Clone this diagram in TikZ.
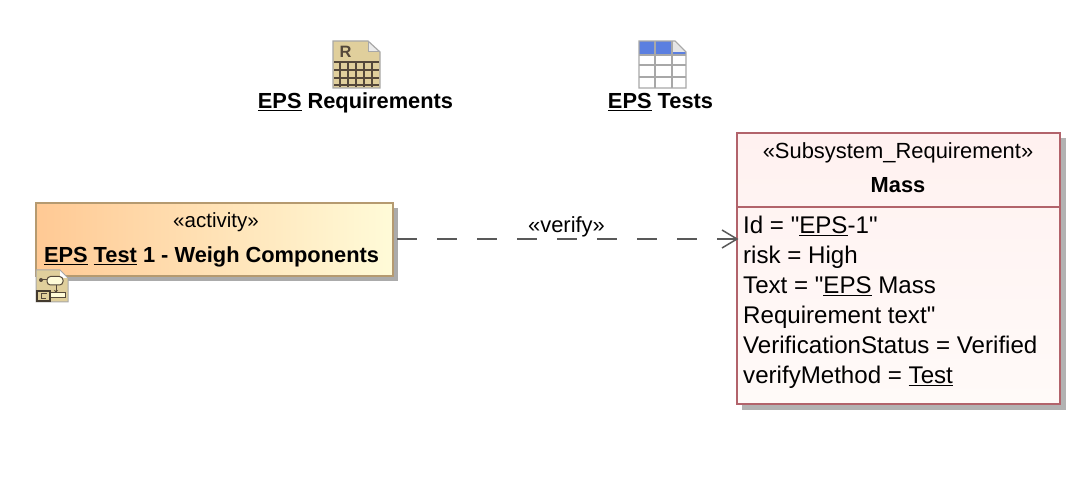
\documentclass[tikz,border=0pt]{standalone}
\usepackage{fontspec}
\setmainfont{Liberation Sans}
\newfontfamily\plainf{Liberation Sans}
\usetikzlibrary{arrows.meta,shadings}
\definecolor{actL}{HTML}{FFC994}
\definecolor{actM}{HTML}{FFE6BE}
\definecolor{actR}{HTML}{FFFBD8}
\definecolor{actB}{HTML}{B59A70}
\definecolor{reqB}{HTML}{B2636B}
\definecolor{reqT}{HTML}{FFF1F0}
\definecolor{reqE}{HTML}{FFFAF8}
\definecolor{iconTan}{HTML}{E0CF9C}
\definecolor{iconLine}{HTML}{54483A}
\definecolor{iconEdge}{HTML}{A8A8A8}
\definecolor{iconBlue}{HTML}{5B7FE0}
\newcommand{\ul}[1]{\underline{#1}}
\tikzset{
  x=1bp,y=-1bp,
  lbl/.style={inner sep=0pt,font=\plainf\fontsize{22}{24}\selectfont,text=black},
  blbl/.style={inner sep=0pt,font=\plainf\fontsize{21.9}{24}\selectfont\bfseries,text=black},
  attr/.style={inner sep=0pt,anchor=base west,font=\plainf\fontsize{24.2}{26}\selectfont,text=black},
  actbox/.style={draw=actB,line width=1.5bp,left color=actL,middle color=actM,right color=actR,inner sep=0pt},
  reqbox/.style={draw=reqB,line width=1.5bp,top color=reqT,bottom color=reqE,inner sep=0pt},
  dep/.style={draw=black!65,line width=1.7bp,dash pattern=on 20bp off 20bp},
}
\begin{document}
\begin{tikzpicture}
\useasboundingbox (0,0) rectangle (1088,486);
% requirement table icon
\fill[iconTan] (333,41) -- (368,41) -- (380,52) -- (380,88) -- (333,88) -- cycle;
\fill[white!92!black] (368,41) -- (380,52) -- (368,52) -- cycle;
\draw[iconEdge,line width=1.2bp] (333,41) -- (368,41) -- (380,52) -- (380,88) -- (333,88) -- cycle;
\draw[iconEdge,line width=1bp] (368,41) -- (368,52) -- (380,52);
\foreach \yy in {62,70,78,85} \draw[iconLine,line width=1.6bp] (334,\yy) -- (379,\yy);
\foreach \xx in {340,348,356,364,372} \draw[iconLine,line width=1.6bp] (\xx,62) -- (\xx,87);
\node[inner sep=0pt,font=\plainf\fontsize{16.5}{18}\selectfont\bfseries,text=iconLine] (rr) at (345.5,51.5) {R};
\node[blbl,anchor=base] (reqlabel) at (355.5,109) {\ul{EPS} Requirements};
% tests table icon
\fill[white] (639,41) -- (675,41) -- (686,52) -- (686,88) -- (639,88) -- cycle;
\fill[iconBlue] (639,41) -- (672,41) -- (672,55) -- (639,55) -- cycle;
\fill[iconBlue] (672,52) -- (686,52) -- (686,55) -- (672,55) -- cycle;
\fill[white!90!black] (673,41) -- (685,52) -- (673,52) -- cycle;
\draw[iconEdge,line width=1.2bp] (639,41) -- (675,41) -- (686,52) -- (686,88) -- (639,88) -- cycle;
\foreach \yy in {55,65,77} \draw[iconEdge,line width=1.2bp] (639,\yy) -- (686,\yy);
\foreach \xx in {655,672} \draw[iconEdge,line width=1.2bp] (\xx,41) -- (\xx,88);
\node[blbl,anchor=base] (testlabel) at (660.5,109) {\ul{EPS} Tests};
% activity
\fill[black!33] (41,208) rectangle (398,281);
\node[actbox,minimum width=357bp,minimum height=73bp] (act) at (214.5,239.5) {};
\node[lbl,anchor=base,font=\plainf\fontsize{20.6}{24}\selectfont] (actster) at (216,228) {«activity»};
\node[blbl,anchor=base] (actname) at (211.5,263) {\ul{EPS} \ul{Test} 1 - Weigh Components};
% activity diagram icon
\fill[iconTan] (36,270) -- (60,270) -- (68,278) -- (68,302) -- (36,302) -- cycle;
\fill[white] (60,270) -- (68,278) -- (60,278) -- cycle;
\draw[iconEdge,line width=1bp] (36,270) -- (60,270) -- (68,278) -- (68,302) -- (36,302) -- cycle;
\draw[iconLine,line width=1bp] (41,280) -- (47,280);
\fill[iconLine] (41,280) circle (2);
\draw[iconLine,line width=1bp,fill=actR,rounded corners=3.5bp] (47,276.5) rectangle (63,285);
\draw[iconLine,line width=1bp,-{Stealth[length=3bp,width=4bp]}] (56,285) -- (56,293);
\draw[iconLine,line width=1bp,fill=actR] (50,293) rectangle (65,298);
\draw[iconLine!80!black,line width=2bp,fill=iconTan] (37,291) rectangle (49.5,301.5);
\draw[iconLine,line width=1bp] (41,294) -- (47,294) (41,294) -- (41,298.5) -- (46,298.5);
% requirement
\fill[black!30] (742,138) rectangle (1066,410);
\node[reqbox,minimum width=323bp,minimum height=271bp] (req) at (898.5,268.5) {};
\coordinate (divL) at (req.west |- 0,207);
\coordinate (divR) at (req.east |- 0,207);
\draw[reqB,line width=1.5bp] (divL) -- (divR);
\node[lbl,anchor=base] (reqster) at (898,159) {«Subsystem\_Requirement»};
\node[blbl,anchor=base] (reqname) at (898,193) {Mass};
\node[attr] (a1) at (743,234) {Id = "\ul{EPS}-1"};
\node[attr] (a2) at (743,264) {risk = High};
\node[attr] (a3) at (743,294) {Text = "\ul{EPS} Mass};
\node[attr] (a4) at (743,324) {Requirement text"};
\node[attr] (a5) at (743,354) {VerificationStatus = Verified};
\node[attr] (a6) at (743,384) {verifyMethod = \ul{Test}};
% dependency
\coordinate (depstart) at (397,239);
\coordinate (depend) at (737,239);
\draw[dep] (depstart) -- (depend);
\draw[black!65,line width=1.5bp] (722,230) -- (depend) -- (722,248);
\node[lbl,anchor=base] (verify) at (566.5,232.5) {«verify»};
\end{tikzpicture}
\end{document}
